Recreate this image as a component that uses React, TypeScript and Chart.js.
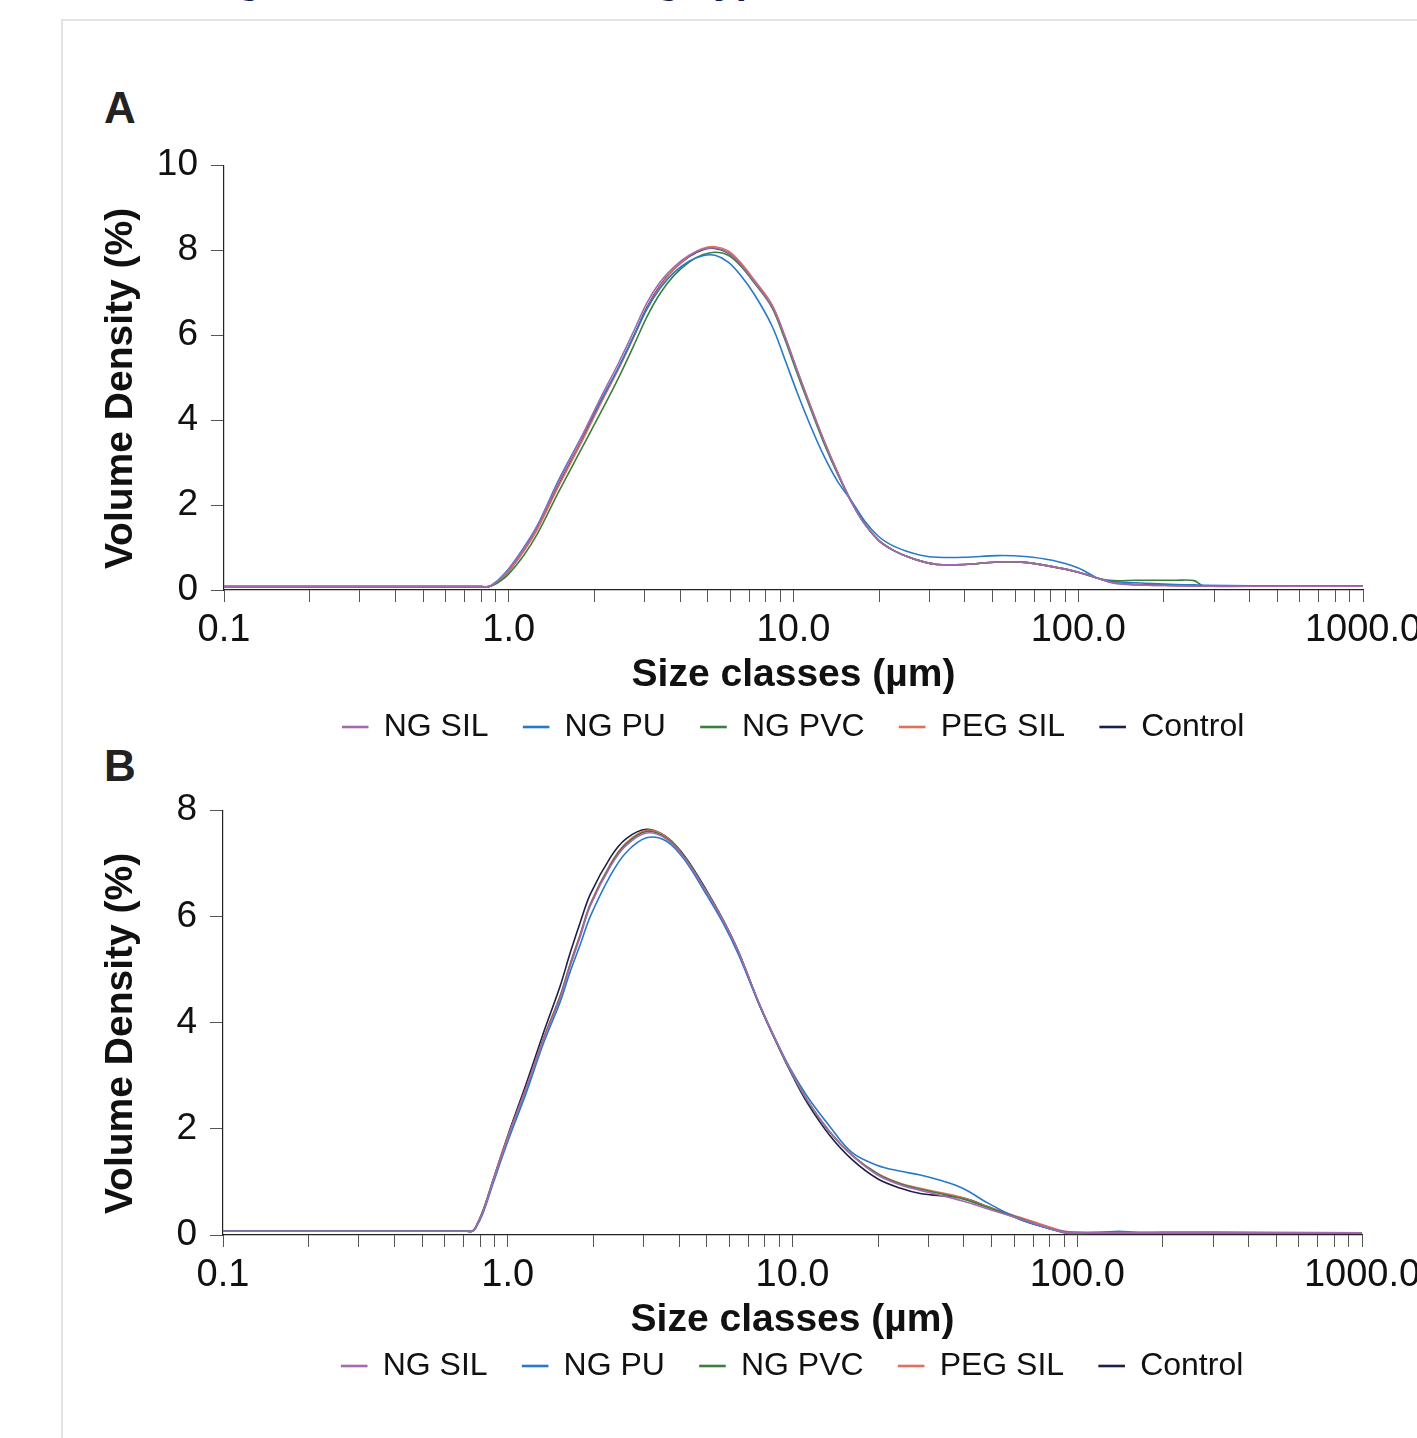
import React, { useEffect, useRef } from "react";
import { Chart, registerables } from "chart.js";

Chart.register(...registerables);

const FONT = "'Liberation Sans', Arial, Helvetica, sans-serif";

const SERIES_NAMES = ["NG SIL", "NG PU", "NG PVC", "PEG SIL", "Control"];
const SERIES_COLORS = ["#a46aaf", "#2779c9", "#3c7f3c", "#e0705c", "#1c1f4a"];

const X_DECADES = [0.1, 1, 10, 100, 1000];
const X_MINOR_MULT = [2, 3, 4, 5, 6, 7, 8, 9];
const Y_TICKS_A = [0, 2, 4, 6, 8, 10];
const Y_TICKS_B = [0, 2, 4, 6, 8];

const X_TITLE = "Size classes (µm)";
const Y_TITLE = "Volume Density (%)  ";

// ---- Panel A ----
const SIZE_A = [0.1, 0.3, 0.6, 0.8, 0.85, 0.88, 0.92, 1.0, 1.13, 1.26, 1.5, 1.8, 2.1, 2.42, 2.75, 3.05, 3.4, 3.8, 4.3, 4.8, 5.3, 5.9, 6.5, 7.3, 8.4, 9.3, 10.3, 11.5, 12.8, 14.3, 15.9, 17.8, 19.9, 22.2, 24.8, 28, 32, 40, 52, 65, 81, 100, 118, 133, 160, 183, 220, 255, 275, 400, 600, 1000];
const A_NG_SIL = [0.08, 0.08, 0.08, 0.08, 0.08, 0.13, 0.23, 0.48, 0.97, 1.5, 2.56, 3.6, 4.52, 5.32, 6.1, 6.75, 7.25, 7.6, 7.88, 8.02, 8.05, 7.94, 7.68, 7.25, 6.68, 5.98, 5.16, 4.3, 3.5, 2.75, 2.1, 1.55, 1.17, 0.95, 0.8, 0.68, 0.6, 0.6, 0.66, 0.65, 0.55, 0.42, 0.27, 0.16, 0.12, 0.11, 0.1, 0.09, 0.09, 0.09, 0.09, 0.09];
const A_NG_PU = [0.08, 0.08, 0.08, 0.08, 0.08, 0.14, 0.24, 0.5, 1.0, 1.52, 2.6, 3.6, 4.45, 5.22, 5.98, 6.6, 7.1, 7.47, 7.74, 7.87, 7.88, 7.72, 7.42, 6.95, 6.22, 5.45, 4.65, 3.85, 3.15, 2.55, 2.12, 1.62, 1.26, 1.05, 0.92, 0.82, 0.77, 0.77, 0.81, 0.79, 0.7, 0.52, 0.27, 0.2, 0.17, 0.15, 0.13, 0.12, 0.11, 0.1, 0.09, 0.09];
const A_NG_PVC = [0.08, 0.08, 0.08, 0.08, 0.08, 0.11, 0.18, 0.38, 0.82, 1.32, 2.32, 3.32, 4.17, 4.97, 5.76, 6.42, 6.98, 7.4, 7.72, 7.89, 7.95, 7.88, 7.64, 7.22, 6.65, 5.92, 5.1, 4.25, 3.45, 2.72, 2.1, 1.55, 1.17, 0.95, 0.8, 0.68, 0.6, 0.6, 0.66, 0.65, 0.55, 0.42, 0.27, 0.22, 0.23, 0.23, 0.23, 0.22, 0.1, 0.09, 0.09, 0.09];
const A_PEG_SIL = [0.08, 0.08, 0.08, 0.08, 0.08, 0.12, 0.21, 0.44, 0.92, 1.43, 2.46, 3.48, 4.38, 5.18, 5.96, 6.62, 7.15, 7.55, 7.86, 8.04, 8.08, 7.98, 7.72, 7.29, 6.72, 6.0, 5.18, 4.32, 3.52, 2.77, 2.11, 1.56, 1.17, 0.95, 0.8, 0.68, 0.6, 0.6, 0.66, 0.65, 0.55, 0.42, 0.27, 0.17, 0.12, 0.11, 0.1, 0.1, 0.1, 0.1, 0.09, 0.09];
const A_CONTROL = [0.08, 0.08, 0.08, 0.08, 0.08, 0.12, 0.22, 0.45, 0.93, 1.45, 2.48, 3.5, 4.4, 5.2, 5.98, 6.64, 7.17, 7.55, 7.85, 8.01, 8.04, 7.93, 7.68, 7.26, 6.7, 5.98, 5.16, 4.3, 3.5, 2.75, 2.1, 1.55, 1.17, 0.95, 0.8, 0.68, 0.6, 0.6, 0.66, 0.65, 0.55, 0.42, 0.27, 0.17, 0.13, 0.12, 0.11, 0.1, 0.1, 0.09, 0.09, 0.09];

// ---- Panel B ----
const SIZE_B = [0.1, 0.3, 0.6, 0.72, 0.75, 0.77, 0.82, 0.887, 1.0, 1.165, 1.333, 1.53, 1.654, 1.8, 1.95, 2.3, 2.6, 3.07, 3.6, 4.2, 5.0, 5.7, 6.44, 7.7, 9.0, 10.0, 11.3, 13.5, 16.2, 19.9, 24, 28.1, 33, 39.6, 48.6, 64, 80, 90.6, 100, 120, 140, 160, 200, 300, 500, 1000];
const B_NG_SIL = [0.07, 0.07, 0.07, 0.07, 0.07, 0.13, 0.45, 1.0, 1.82, 2.78, 3.66, 4.47, 5.05, 5.63, 6.2, 6.95, 7.33, 7.57, 7.46, 7.08, 6.45, 5.93, 5.35, 4.32, 3.52, 3.03, 2.53, 1.95, 1.5, 1.13, 0.94, 0.84, 0.75, 0.64, 0.49, 0.29, 0.12, 0.05, 0.04, 0.04, 0.04, 0.04, 0.04, 0.04, 0.04, 0.04];
const B_NG_PU = [0.07, 0.07, 0.07, 0.07, 0.07, 0.12, 0.42, 0.96, 1.76, 2.7, 3.6, 4.4, 4.95, 5.48, 6.0, 6.78, 7.2, 7.48, 7.42, 7.05, 6.4, 5.88, 5.3, 4.3, 3.53, 3.06, 2.6, 2.05, 1.55, 1.31, 1.2, 1.13, 1.03, 0.88, 0.6, 0.28, 0.12, 0.06, 0.05, 0.05, 0.07, 0.05, 0.04, 0.04, 0.04, 0.04];
const B_NG_PVC = [0.07, 0.07, 0.07, 0.07, 0.07, 0.13, 0.45, 1.0, 1.82, 2.78, 3.68, 4.5, 5.08, 5.66, 6.22, 6.98, 7.36, 7.6, 7.48, 7.1, 6.46, 5.93, 5.35, 4.3, 3.51, 3.02, 2.52, 1.94, 1.5, 1.15, 0.96, 0.86, 0.78, 0.68, 0.52, 0.3, 0.12, 0.04, 0.03, 0.04, 0.04, 0.04, 0.04, 0.04, 0.04, 0.04];
const B_PEG_SIL = [0.07, 0.07, 0.07, 0.07, 0.07, 0.14, 0.46, 1.02, 1.85, 2.8, 3.7, 4.52, 5.1, 5.68, 6.24, 7.0, 7.38, 7.62, 7.5, 7.1, 6.45, 5.93, 5.35, 4.31, 3.52, 3.03, 2.53, 1.95, 1.5, 1.16, 0.97, 0.88, 0.8, 0.7, 0.53, 0.32, 0.15, 0.07, 0.05, 0.05, 0.05, 0.05, 0.06, 0.06, 0.05, 0.04];
const B_CONTROL = [0.07, 0.07, 0.07, 0.07, 0.07, 0.14, 0.47, 1.03, 1.87, 2.87, 3.8, 4.7, 5.3, 5.9, 6.42, 7.12, 7.46, 7.64, 7.5, 7.12, 6.48, 5.94, 5.35, 4.3, 3.5, 3.0, 2.48, 1.88, 1.42, 1.06, 0.88, 0.78, 0.74, 0.7, 0.53, 0.28, 0.12, 0.06, 0.04, 0.04, 0.04, 0.04, 0.04, 0.04, 0.04, 0.04];

const X_TICK_VALUES: number[] = X_DECADES.flatMap((d, i) =>
  i < X_DECADES.length - 1 ? [d, ...X_MINOR_MULT.map((m) => d * m)] : [d]
);

function makeConfig(
  xs: number[],
  series: number[][],
  yMax: number,
  yTicks: number[],
  yWidth: number,
  xHeight: number,
  xTitlePadBottom: number
): any {
  return {
    type: "line",
    data: {
      datasets: SERIES_NAMES.map((name, i) => ({
        label: name,
        data: xs.map((x, j) => ({ x, y: series[i][j] })),
        borderColor: SERIES_COLORS[i],
        backgroundColor: SERIES_COLORS[i],
        borderWidth: 1.6,
        pointRadius: 0,
        pointHoverRadius: 0,
        tension: 0.35,
        fill: false,
      })),
    },
    options: {
      animation: false,
      responsive: false,
      maintainAspectRatio: false,
      events: [],
      layout: { padding: { top: 34, right: 72, bottom: 0, left: 0 } },
      plugins: {
        legend: {
          position: "bottom",
          fullSize: false,
          align: "center",
          labels: {
            font: { family: FONT, size: 32 },
            color: "#111",
            boxWidth: 25,
            boxHeight: 1,
            padding: 35,
          },
        },
        tooltip: { enabled: false },
        title: { display: false },
      },
      scales: {
        x: {
          type: "logarithmic",
          min: 0.1,
          max: 1000,
          afterBuildTicks: (s: any) => {
            s.ticks = X_TICK_VALUES.map((v) => ({ value: v, major: X_DECADES.includes(v) }));
          },
          afterFit: (s: any) => {
            s.height = xHeight;
          },
          ticks: {
            autoSkip: false,
            maxRotation: 0,
            minRotation: 0,
            padding: 6,
            color: "#111",
            font: { family: FONT, size: 38 },
            callback: (v: any) => (X_DECADES.includes(Number(v)) ? Number(v).toFixed(1) : ""),
          },
          grid: {
            drawOnChartArea: false,
            drawTicks: true,
            tickLength: 12,
            color: "#555",
            lineWidth: 1,
          },
          border: { display: true, color: "#222", width: 1.2 },
          title: {
            display: true,
            text: X_TITLE,
            color: "#111",
            font: { family: FONT, size: 39, weight: "bold" },
            padding: { top: 0, bottom: xTitlePadBottom },
          },
        },
        y: {
          type: "linear",
          min: 0,
          max: yMax,
          afterBuildTicks: (s: any) => {
            s.ticks = yTicks.map((v) => ({ value: v }));
          },
          afterFit: (s: any) => {
            s.width = yWidth;
          },
          ticks: {
            padding: 13,
            color: "#111",
            font: { family: FONT, size: 37 },
          },
          grid: {
            drawOnChartArea: false,
            drawTicks: true,
            tickLength: 13,
            color: "#555",
            lineWidth: 1,
          },
          border: { display: true, color: "#222", width: 1.2 },
          title: {
            display: true,
            text: Y_TITLE,
            color: "#111",
            font: { family: FONT, size: 39, weight: "bold" },
            padding: { top: 18, bottom: 0 },
          },
        },
      },
    },
  };
}

function ChartCanvas(props: { config: any; left: number; top: number; width: number; height: number }) {
  const ref = useRef<HTMLCanvasElement>(null);
  useEffect(() => {
    if (!ref.current) return;
    const chart = new Chart(ref.current, props.config);
    return () => chart.destroy();
  }, []);
  return (
    <canvas
      ref={ref}
      width={props.width}
      height={props.height}
      style={{
        position: "absolute",
        left: props.left,
        top: props.top,
        width: props.width,
        height: props.height,
      }}
    />
  );
}

export default function App() {
  const cfgA = makeConfig(SIZE_A, [A_NG_SIL, A_NG_PU, A_NG_PVC, A_PEG_SIL, A_CONTROL], 10, Y_TICKS_A, 144, 86, -23);
  const cfgB = makeConfig(SIZE_B, [B_NG_SIL, B_NG_PU, B_NG_PVC, B_PEG_SIL, B_CONTROL], 8, Y_TICKS_B, 143, 80, -29);
  return (
    <div
      style={{
        position: "absolute",
        left: 0,
        top: 0,
        width: 1417,
        height: 1438,
        overflow: "hidden",
        background: "#fff",
        fontFamily: FONT,
      }}
    >
      <div
        style={{
          position: "absolute",
          left: 144,
          top: -41,
          fontSize: 40,
          lineHeight: "40px",
          fontWeight: "bold",
          color: "#0d1b4c",
          whiteSpace: "nowrap",
        }}
      >
        Sizing distribution in Tubing Type
      </div>
      <div
        style={{
          position: "absolute",
          left: 61,
          top: 19,
          width: 1500,
          height: 1600,
          borderLeft: "2px solid #e3e3e3",
          borderTop: "2px solid #e3e3e3",
        }}
      />
      <div
        style={{
          position: "absolute",
          left: 104,
          top: 86,
          fontSize: 44,
          lineHeight: "44px",
          fontWeight: "bold",
          color: "#222",
        }}
      >
        A
      </div>
      <div
        style={{
          position: "absolute",
          left: 104,
          top: 744,
          fontSize: 44,
          lineHeight: "44px",
          fontWeight: "bold",
          color: "#222",
        }}
      >
        B
      </div>
      <ChartCanvas config={cfgA} left={80} top={130} width={1355} height={623} />
      <ChartCanvas config={cfgB} left={80} top={775} width={1354} height={617} />
    </div>
  );
}
